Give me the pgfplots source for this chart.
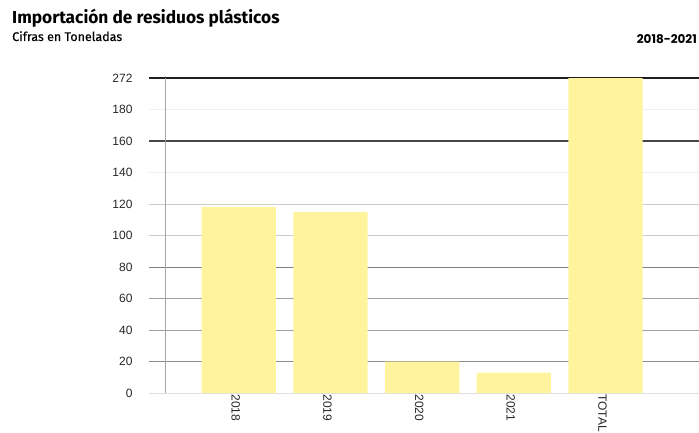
\documentclass[border=0pt]{standalone}
\usepackage{fontspec}
\setmainfont{Liberation Sans}
\newfontfamily\titlefont{Fira Sans}
\newfontfamily\popfont{Poppins}
\usepackage{pgfplots}
\pgfplotsset{compat=1.18}
\definecolor{baryellow}{HTML}{FFF49D}
\begin{document}
\begin{tikzpicture}[x=1pt,y=1pt]
\path[use as bounding box] (0,0) rectangle (699,432);
\node[anchor=base west,inner sep=0] at (12,408) {\titlefont\fontsize{17.3}{20}\selectfont\bfseries Importación de residuos plásticos};
\node[anchor=base west,inner sep=0] at (12,391) {\titlefont\fontsize{12.5}{14}\selectfont\addfontfeatures{FakeBold=0.4}Cifras en Toneladas};
\node[anchor=base east,inner sep=0] at (697,388) {\popfont\fontsize{12}{14}\selectfont\bfseries 2018-2021};
\begin{axis}[
  at={(149pt,39pt)}, anchor=south west,
  scale only axis, width=550pt, height=315pt,
  xmin=-0.98, xmax=5.02, ymin=0, ymax=200,
  axis line style={draw=none},
  clip=false,
  xtick={0,1,2,3,4},
  xticklabels={2018,2019,2020,2021,TOTAL},
  ytick={0,20,40,60,80,100,120,140,160,180,200},
  yticklabels={0,20,40,60,80,100,120,140,160,180,272},
  major tick length=0pt,
  /pgf/number format/assume math mode=true,
  tick label style={font=\fontsize{12}{13}\selectfont, text=black!85},
  yticklabel style={anchor=east, xshift=-13pt},
  xticklabel style={rotate=-90, anchor=west, xshift=-2pt, yshift=-3pt},
]
% grid lines
\addplot[draw=black!88, line width=1.2pt] coordinates {(-0.98,200) (5.02,200)};
\addplot[draw=black!6, line width=1pt] coordinates {(-0.98,180) (5.02,180)};
\addplot[draw=black!72, line width=1.2pt] coordinates {(-0.98,160) (5.02,160)};
\addplot[draw=black!7, line width=1pt] coordinates {(-0.98,140) (5.02,140)};
\addplot[draw=black!20, line width=1pt] coordinates {(-0.98,120) (5.02,120)};
\addplot[draw=black!20, line width=1pt] coordinates {(-0.98,100) (5.02,100)};
\addplot[draw=black!50, line width=1pt] coordinates {(-0.98,80) (5.02,80)};
\addplot[draw=black!38, line width=1pt] coordinates {(-0.98,60) (5.02,60)};
\addplot[draw=black!38, line width=1pt] coordinates {(-0.98,40) (5.02,40)};
\addplot[draw=black!45, line width=1.2pt] coordinates {(-0.98,20) (5.02,20)};
\addplot[draw=black!12, line width=1pt] coordinates {(-0.98,0) (5.02,0)};
% vertical line
\addplot[draw=black!35, line width=1.4pt] coordinates {(-0.80,0) (-0.80,200)};
% bars
\addplot[ybar, bar width=0.81, fill=baryellow, draw=none] coordinates {
  (0,118) (1,115) (2,20) (3,13) (4,200)
};
\end{axis}
\end{tikzpicture}
\end{document}
